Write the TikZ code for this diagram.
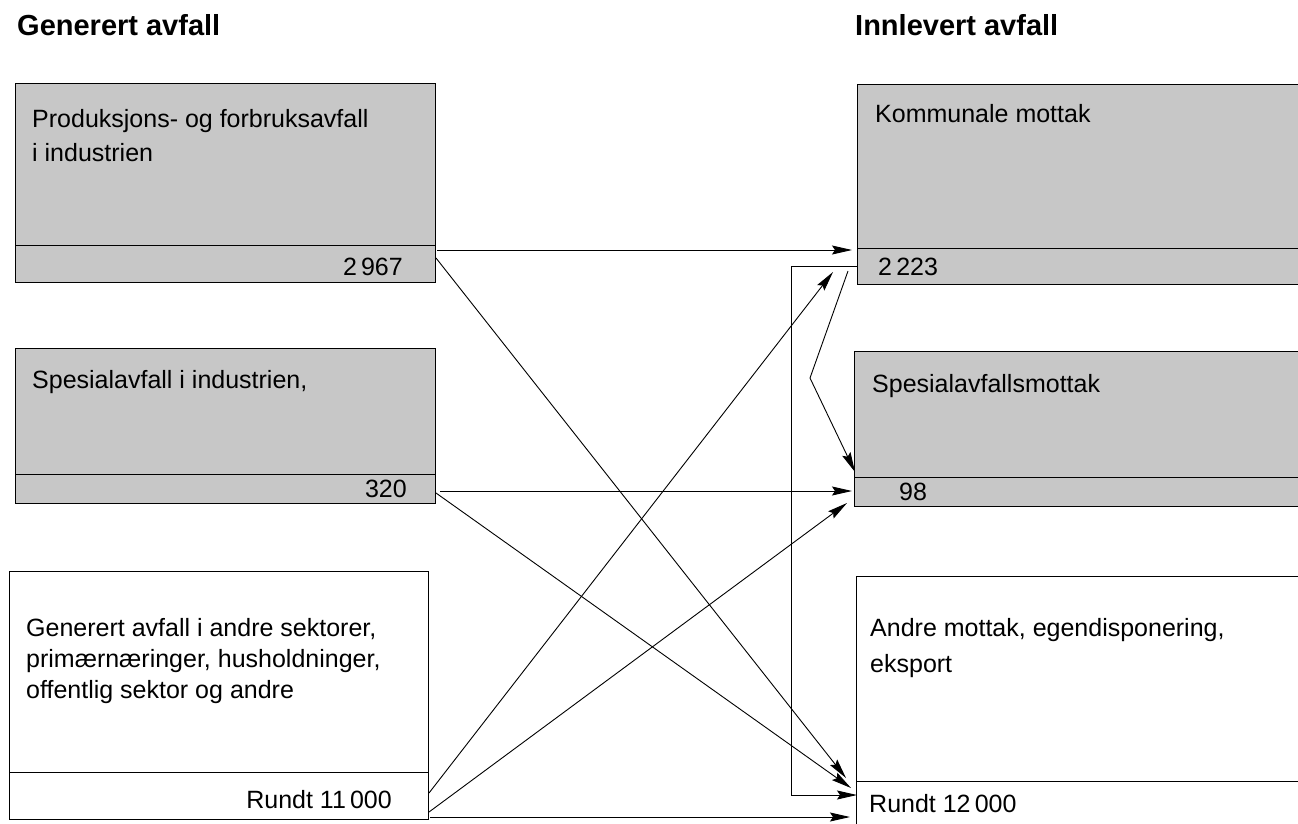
\documentclass[tikz,border=0pt]{standalone}
\usepackage{fontspec}
\setmainfont{Liberation Sans}
\usetikzlibrary{arrows.meta}
\begin{document}
\begin{tikzpicture}[x=1pt,y=-1pt,
  sect/.style={draw, line width=1.1pt, inner sep=0pt, anchor=north west},
  shaded/.style={sect, fill=black!22},
  plain/.style={sect, fill=white},
  lbl/.style={inner sep=0pt, font=\fontsize{25}{31}\selectfont, anchor=base west, align=left},
  numr/.style={inner sep=0pt, font=\fontsize{25}{31}\selectfont, anchor=base east},
  numl/.style={inner sep=0pt, font=\fontsize{25}{31}\selectfont, anchor=base west},
  ttl/.style={inner sep=0pt, font=\fontsize{29}{34}\selectfont\bfseries, anchor=base west},
  flow/.style={line width=0.9pt, -{Stealth[length=20pt,width=9pt,inset=3pt]}},
  route/.style={line width=0.9pt}
]
\clip (0,0) rectangle (1298,823);
\fill[white] (0,0) rectangle (1298,823);

% titles
\node[ttl] (tl) at (17,35) {Generert avfall};
\node[ttl] (tr) at (855,35) {Innlevert avfall};

% left boxes
\node[shaded, minimum width=420pt, minimum height=162pt] (L1t) at (15,83) {};
\node[shaded, minimum width=420pt, minimum height=37pt] (L1v) at (15,245) {};
\node[shaded, minimum width=420pt, minimum height=126pt] (L2t) at (15,348) {};
\node[shaded, minimum width=420pt, minimum height=29pt] (L2v) at (15,474) {};
\node[plain, minimum width=419pt, minimum height=201pt] (L3t) at (9,571) {};
\node[plain, minimum width=419pt, minimum height=47pt] (L3v) at (9,772) {};

% right boxes
\node[shaded, minimum width=460pt, minimum height=164pt] (R1t) at (857,84) {};
\node[shaded, minimum width=460pt, minimum height=36pt] (R1v) at (857,248) {};
\node[shaded, minimum width=460pt, minimum height=126pt] (R2t) at (854,351) {};
\node[shaded, minimum width=460pt, minimum height=29pt] (R2v) at (854,477) {};
\node[plain, minimum width=460pt, minimum height=205pt] (R3t) at (856,576) {};
\node[plain, minimum width=460pt, minimum height=60pt] (R3v) at (856,781) {};

% texts
\node[lbl] (L1a) at (32,127) {Produksjons- og forbruksavfall};
\node[lbl] (L1b) at (32,161) {i industrien};
\node[numr] (L1n) at (403,275) {2\,967};
\node[lbl] (L2a) at (32,388) {Spesialavfall i industrien,};
\node[numr] (L2n) at (407,497) {320};
\node[lbl] (L3a) at (26,636) {Generert avfall i andre sektorer,};
\node[lbl] (L3b) at (26,667) {primærnæringer, husholdninger,};
\node[lbl] (L3c) at (26,698) {offentlig sektor og andre};
\node[numr] (L3n) at (392,808) {Rundt 11\,000};

\node[lbl] (R1a) at (875,122) {Kommunale mottak};
\node[numl] (R1n) at (878,275) {2\,223};
\node[lbl] (R2a) at (872,392) {Spesialavfallsmottak};
\node[numl] (R2n) at (899,500) {98};
\node[lbl] (R3a) at (870,636) {Andre mottak, egendisponering,};
\node[lbl] (R3b) at (870,672) {eksport};
\node[numl] (R3n) at (869,812) {Rundt 12\,000};

% connector end points
\coordinate (a1s) at (437,250);  \coordinate (a1e) at (852,250);
\coordinate (a2s) at (436,258);  \coordinate (a2e) at (846,778);
\coordinate (a3s) at (440,491);  \coordinate (a3e) at (852,491);
\coordinate (a4s) at (436,493);  \coordinate (a4e) at (851,788);
\coordinate (a5s) at (429,793);  \coordinate (a5e) at (833,272);
\coordinate (a6s) at (429,812);  \coordinate (a6e) at (847,503);
\coordinate (a7s) at (430,817);  \coordinate (a7e) at (850,817);
\coordinate (a8s) at (857,266);  \coordinate (a8a) at (791,266);
\coordinate (a8b) at (791,795);  \coordinate (a8e) at (857,795);
\coordinate (a9s) at (848,271);  \coordinate (a9m) at (810,378);
\coordinate (a9e) at (855,472);

% connectors
\draw[flow] (a1s) -- (a1e);
\draw[flow] (a2s) -- (a2e);
\draw[flow] (a3s) -- (a3e);
\draw[flow] (a4s) -- (a4e);
\draw[flow] (a5s) -- (a5e);
\draw[flow] (a6s) -- (a6e);
\draw[flow] (a7s) -- (a7e);
\draw[flow] (a8s) -- (a8a) -- (a8b) -- (a8e);
\draw[flow] (a9s) -- (a9m) -- (a9e);
\end{tikzpicture}
\end{document}
